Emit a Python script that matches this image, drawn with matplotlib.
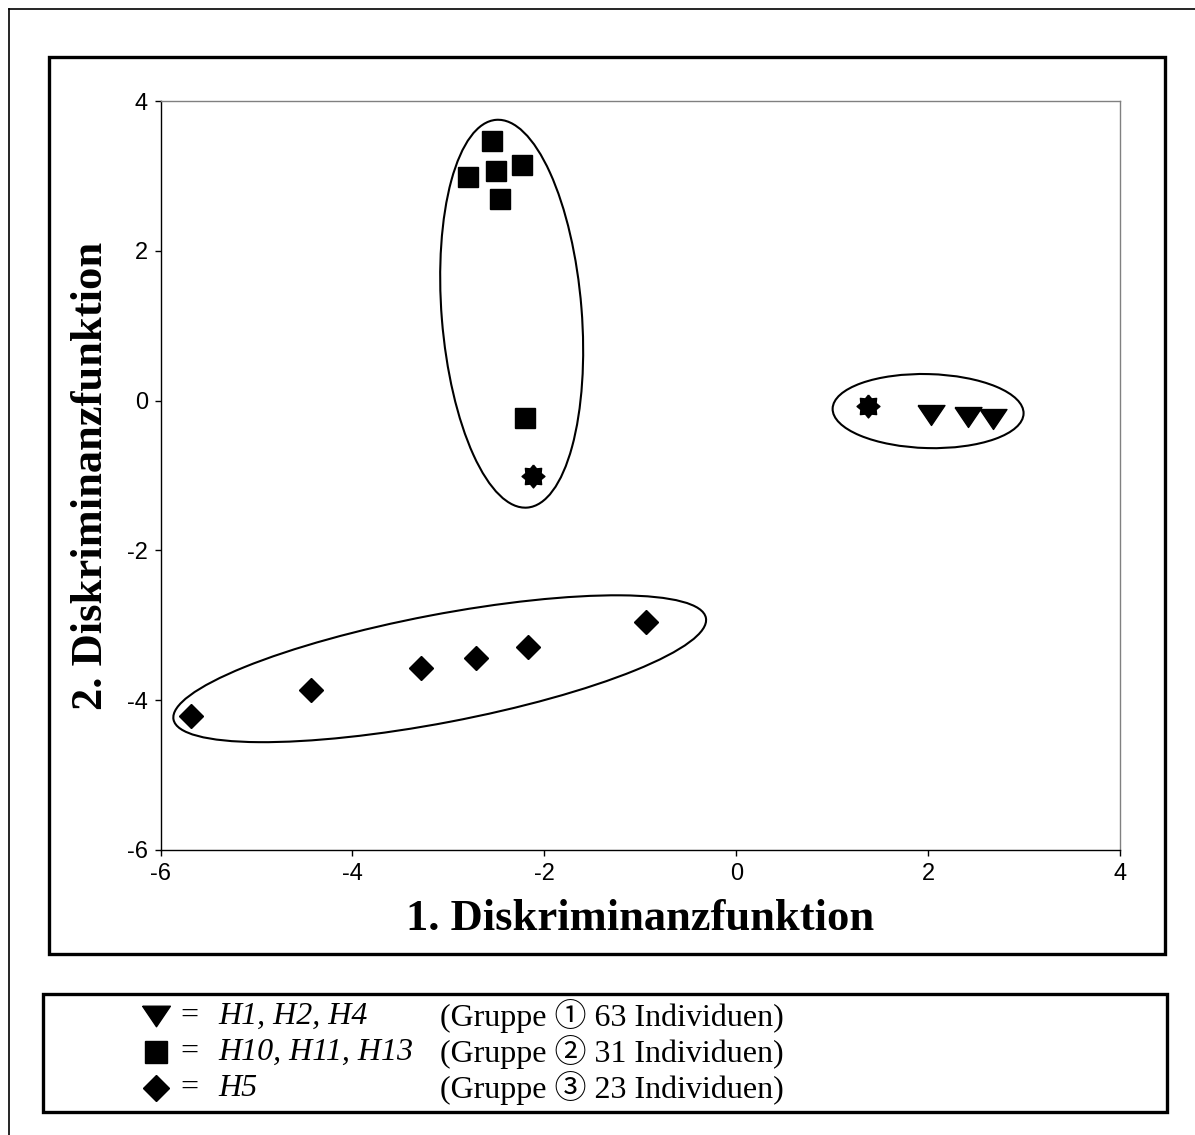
import numpy as np
import matplotlib
matplotlib.use("Agg")
import matplotlib.pyplot as plt
from matplotlib.patches import Ellipse, Rectangle
from matplotlib.lines import Line2D
from matplotlib.transforms import ScaledTranslation

plt.rcParams["axes.unicode_minus"] = False

# Gruppe 1 (H1, H2, H4) - triangles
g1_x = [2.03, 2.42, 2.68]
g1_y = [-0.19, -0.22, -0.25]
# Gruppe 2 (H10, H11, H13) - squares
g2_x = [-2.55, -2.79, -2.50, -2.23, -2.46, -2.20]
g2_y = [3.47, 2.99, 3.07, 3.15, 2.69, -0.23]
# Gruppe 3 (H5) - diamonds
g3_x = [-5.68, -4.43, -3.28, -2.71, -2.17, -0.94]
g3_y = [-4.21, -3.86, -3.57, -3.44, -3.29, -2.96]
# star symbols
star_x = [1.37, -2.12]
star_y = [-0.07, -1.01]

# hand drawn ellipses: centre (data), width / height (px), angle (deg)
ell_cx = [-2.34, 2.00, -3.09]
ell_cy = [1.16, -0.14, -3.58]
ell_w = [140, 191, 542]
ell_h = [389, 74, 108]
ell_ang = [4.6, -1.5, 10.8]

xticks = [-6, -4, -2, 0, 2, 4]
yticks = [-6, -4, -2, 0, 2, 4]

leg_names = ["H1, H2, H4", "H10, H11, H13", "H5"]
leg_desc = ["(Gruppe \u2460 63 Individuen)", "(Gruppe \u2461 31 Individuen)",
            "(Gruppe \u2462 23 Individuen)"]

W, H = 1195, 1135
fig = plt.figure(figsize=(W / 100, H / 100), dpi=100)
fig.patch.set_facecolor("white")


def fx(px):
    return px / W


def fy(py):
    return 1 - py / H


# marker shapes
tri = [(-1, 0.74), (1, 0.74), (0, -0.74), (-1, 0.74)]
ang = np.arange(16) * np.pi / 8
rad = np.where(np.arange(16) % 2 == 0, 1.0, 0.72)
star = list(zip(rad * np.sin(ang), rad * np.cos(ang)))
star.append(star[0])

ax = fig.add_axes([fx(160.5), fy(850), (1120 - 160.5) / W, (850 - 101) / H])
ax.set_xlim(-6, 4)
ax.set_ylim(-6, 4)

ax.plot(g1_x, g1_y, linestyle="none", marker=tri, ms=19.4, color="black")
ax.plot(g2_x, g2_y, linestyle="none", marker="s", ms=14.5, color="black")
ax.plot(g3_x, g3_y, linestyle="none", marker="D", ms=12.2, color="black")
ax.plot(star_x, star_y, linestyle="none", marker=star, ms=16.5, color="black")

for cx, cy, w, h, a in zip(ell_cx, ell_cy, ell_w, ell_h, ell_ang):
    tr = fig.dpi_scale_trans + ScaledTranslation(cx, cy, ax.transData)
    ax.add_patch(Ellipse((0, 0), w / 100, h / 100, angle=a, transform=tr,
                         fill=False, ec="black", lw=1.5))

ax.set_xticks(xticks)
ax.set_yticks(yticks)
ax.tick_params(direction="out", length=4, width=1, pad=5, labelsize=17,
               colors="black")
for lab in ax.get_xticklabels() + ax.get_yticklabels():
    lab.set_family("Liberation Sans")
ax.spines["left"].set_color("black")
ax.spines["bottom"].set_color("black")
ax.spines["top"].set_color("#808080")
ax.spines["right"].set_color("#808080")
for s in ax.spines.values():
    s.set_linewidth(1)

ax.set_xlabel("1. Diskriminanzfunktion", family="Liberation Serif",
              weight="bold", fontsize=32)
ax.set_ylabel("2. Diskriminanzfunktion", family="Liberation Serif",
              weight="bold", fontsize=32)
ax.xaxis.set_label_coords(0.5, -0.065)
ax.yaxis.set_label_coords(-0.052, 0.5)

# frames
fig.add_artist(Line2D([fx(9), fx(9)], [fy(9), 0], lw=1.2, color="black"))
fig.add_artist(Line2D([fx(9), 1], [fy(9), fy(9)], lw=1.2, color="black"))
fig.add_artist(Rectangle((fx(49), fy(954)), (1165 - 49) / W, (954 - 57) / H,
                         fill=False, lw=2.4, ec="black", transform=fig.transFigure))
fig.add_artist(Rectangle((fx(43), fy(1112)), (1167 - 43) / W, (1112 - 994) / H,
                         fill=False, lw=2.4, ec="black", transform=fig.transFigure))

# legend box content
leg_marks = [(tri, 20), ("s", 15.5), ("D", 13.5)]
row_y = [1016, 1052, 1088]
serif = ["Liberation Serif", "Noto Sans CJK JP", "DejaVu Sans"]
for (mk, ms), name, desc, py in zip(leg_marks, leg_names, leg_desc, row_y):
    fig.add_artist(Line2D([fx(156)], [fy(py)], marker=mk, ms=ms, color="black",
                          linestyle="none"))
    fig.text(fx(189), fy(py), "=", ha="center", va="center", fontsize=23,
             family=serif)
    fig.text(fx(218), fy(py), name, ha="left", va="center", fontsize=23,
             family=serif, style="italic")
    fig.text(fx(440), fy(py), desc, ha="left", va="center", fontsize=23,
             family=serif)

fig.savefig("out.png", dpi=100)
